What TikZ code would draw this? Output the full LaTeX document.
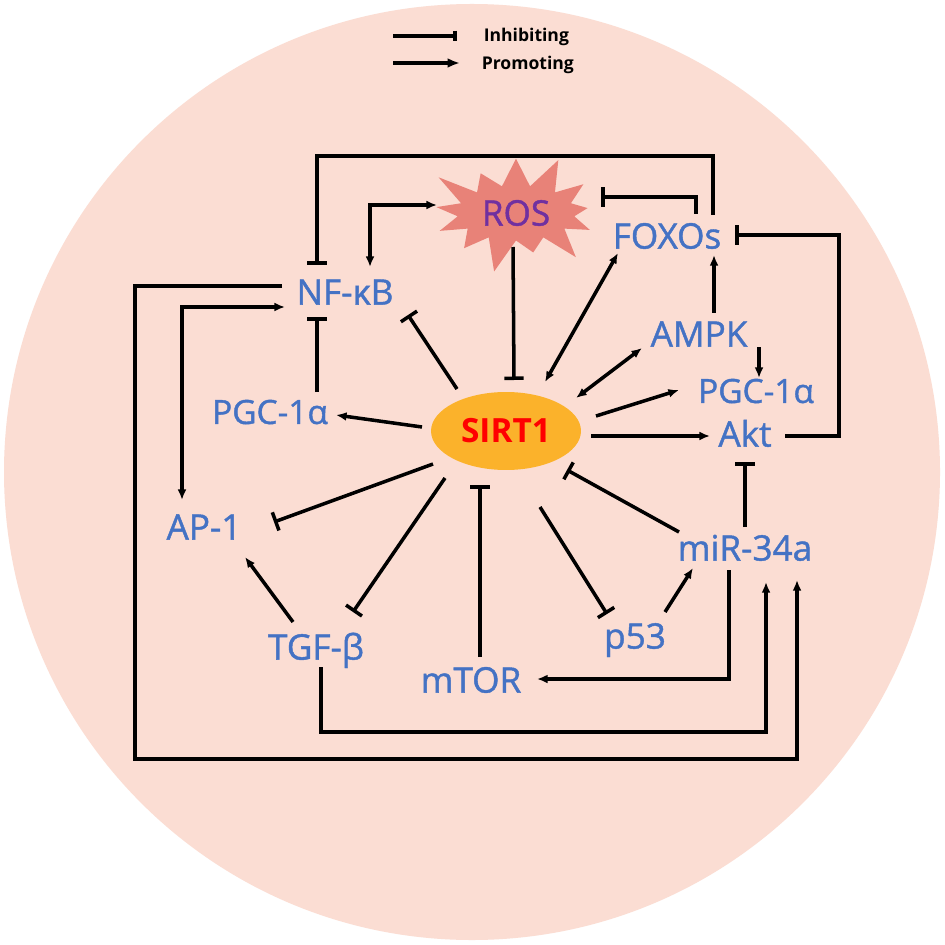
\documentclass[tikz,border=0pt]{standalone}
\usepackage{fontspec}
\setmainfont{Open Sans}
\newfontfamily\labfont[FakeBold=1.2]{Open Sans}
\usetikzlibrary{arrows.meta, calc, shapes.geometric, shapes.symbols}
\definecolor{cblue}{HTML}{4472C4}
\definecolor{cpeach}{HTML}{FBDDD3}
\definecolor{cgold}{HTML}{FBB22B}
\definecolor{csalmon}{HTML}{E88278}
\definecolor{cpurple}{HTML}{7030A0}
\definecolor{cred}{HTML}{FF0000}
\tikzset{
  every picture/.style={line width=2pt},
  lab/.style={font=\labfont\fontsize{20}{24}\selectfont, text=cblue, inner sep=0pt, text height=14.3pt, text depth=0pt},
  labsmall/.style={lab, font=\labfont\fontsize{19}{23}\selectfont, text height=13.6pt},
  legtxt/.style={font=\fontsize{10}{12}\selectfont\bfseries, inner sep=0pt, anchor=west},
  inh/.style={-{Bar[width=11pt]}},
  prom/.style={-{Latex[length=6pt, width=5pt]}},
  both/.style={{Latex[length=6pt, width=5pt]}-{Latex[length=6pt, width=5pt]}},
}

\begin{document}
\begin{tikzpicture}[x=0.02cm, y=-0.02cm]
  \useasboundingbox (0,0) rectangle (945,945);
  \fill[white] (0,0) rectangle (945,945);
  \fill[cpeach] (472,472) circle (468);

  % legend
  \node[legtxt] (tinh) at (482,37) {Inhibiting};
  \node[legtxt] (tpro) at (480,65) {Promoting};
  \draw[line width=2.4pt, -{Bar[width=6pt]}] ([shift={(-89,-1)}]tinh.west) -- ([shift={(-25,-1)}]tinh.west);
  \draw[line width=2.4pt, -{Latex[length=7pt, width=5.5pt]}] ([shift={(-87,-2)}]tpro.west) -- ([shift={(-20,-2)}]tpro.west);

  % nodes
  \node[starburst, fill=csalmon, starburst points=13, starburst point height=0.75cm, minimum width=3.85cm, minimum height=2.6cm, inner sep=0pt,
        font=\labfont\fontsize{20}{24}\selectfont, text=cpurple, text height=14.3pt, text depth=0pt] (ros) at (516,213) {ROS};
  \node[ellipse, fill=cgold, minimum width=3cm, minimum height=1.56cm, inner sep=0pt,
        font=\fontsize{19}{23}\selectfont\bfseries, text=cred, text height=13.6pt, text depth=0pt] (sirt) at (506,431) {SIRT1};
  \node[lab] (foxo) at (667,236) {FOXOs};
  \node[lab] (nfkb) at (345,292) {NF-κB};
  \node[lab] (ampk) at (699,334) {AMPK};
  \node[labsmall] (pgcr) at (756,391) {PGC-1α};
  \node[labsmall] (pgcl) at (270,412) {PGC-1α};
  \node[lab] (akt) at (745,434) {Akt};
  \node[lab] (ap1) at (204,527) {AP-1};
  \node[lab] (mir) at (745,548) {miR-34a};
  \node[lab] (tgf) at (316,647) {TGF-β};
  \node[lab] (p53) at (635,636) {p53};
  \node[lab] (mtor) at (471,680) {mTOR};

  % loops round the outside
  \draw[inh] ([shift={(46,-21)}]foxo.center) -- ++(0,-59) -| ([shift={(-28,-27)}]nfkb.center);
  \draw[both] ([shift={(25,-25)}]nfkb.center) |- ([shift={(-79,-8)}]ros.center);
  \draw[inh] ([shift={(29,-22)}]foxo.center) |- ([shift={(85,-16)}]ros.center);
  \draw[inh] ([shift={(40,2)}]akt.center) -- ++(54,0) |- ([shift={(68,-1)}]foxo.center);
  \draw[prom] ([shift={(-63,-6)}]nfkb.center) -- ++(-147,0) -- ++(0,473) -| ([shift={(52,32)}]mir.center);
  \draw[both] ([shift={(-22,-27)}]ap1.center) |- ([shift={(-60,15)}]nfkb.center);
  \draw[prom] ([shift={(-16,22)}]mir.center) |- ([shift={(66,-1)}]mtor.center);
  \draw[prom] ([shift={(5,20)}]tgf.center) -- ++(0,65) -| ([shift={(21,34)}]mir.center);

  % round SIRT1
  \draw[inh] ([shift={(-3,34)}]ros.center) -- ([shift={(8,-51)}]sirt.center);
  \draw[inh] ([shift={(-49,-42)}]sirt.center) -- ([shift={(63,23)}]nfkb.center);
  \draw[both] ([shift={(39,-49)}]sirt.center) -- ([shift={(-49,17)}]foxo.center);
  \draw[both] ([shift={(70,-33)}]sirt.center) -- ([shift={(-57,14)}]ampk.center);
  \draw[prom] ([shift={(90,-15)}]sirt.center) -- ([shift={(-77,-1)}]pgcr.center);
  \draw[prom] ([shift={(85,5)}]sirt.center) -- ([shift={(-35,2)}]akt.center);
  \draw[prom] ([shift={(-84,-4)}]sirt.center) -- ([shift={(66,3)}]pgcl.center);
  \draw[inh] ([shift={(-73,33)}]sirt.center) -- ([shift={(70,-5)}]ap1.center);
  \draw[inh] ([shift={(-61,47)}]sirt.center) -- ([shift={(37,-35)}]tgf.center);
  \draw[inh] ([shift={(9,-23)}]mtor.center) -- ([shift={(-26,54)}]sirt.center);
  \draw[inh] ([shift={(34,76)}]sirt.center) -- ([shift={(-28,-22)}]p53.center);
  \draw[inh] ([shift={(-66,-16)}]mir.center) -- ([shift={(61,39)}]sirt.center);

  % the rest
  \draw[inh] ([shift={(47,-20)}]pgcl.center) -- ([shift={(-28,25)}]nfkb.center);
  \draw[prom] ([shift={(15,-21)}]ampk.center) -- ([shift={(47,19)}]foxo.center);
  \draw[prom] ([shift={(60,13)}]ampk.center) -- ([shift={(3,-13)}]pgcr.center);
  \draw[inh] ([shift={(0,-21)}]mir.center) -- ([shift={(0,28)}]akt.center);
  \draw[prom] ([shift={(30,-24)}]p53.center) -- ([shift={(-52,20)}]mir.center);
  \draw[prom] ([shift={(-23,-25)}]tgf.center) -- ([shift={(41,30)}]ap1.center);
\end{tikzpicture}
\end{document}
